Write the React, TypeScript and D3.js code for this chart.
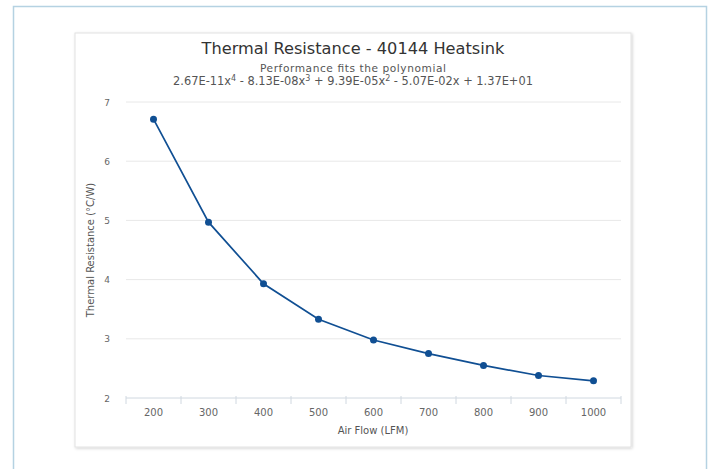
import * as d3 from "d3";

const airFlow = ["200", "300", "400", "500", "600", "700", "800", "900", "1000"];
const resistance = [6.71, 4.97, 3.93, 3.33, 2.98, 2.75, 2.55, 2.38, 2.29];
const yTicks = [2, 3, 4, 5, 6, 7];

const W = 711;
const H = 469;
const FONT = '"Lucida Grande", "DejaVu Sans", sans-serif';

export default function App() {
  const x = d3.scaleBand<string>().domain(airFlow).range([126, 621]);
  const y = d3.scaleLinear().domain([2, 7]).range([398, 102]);
  const cx = (d: string) => x(d)! + x.bandwidth() / 2;

  const line = d3
    .line<number>()
    .x((_, i) => cx(airFlow[i]))
    .y((d) => y(d));

  const ticksX = [...airFlow.map((d) => x(d)!), 621];

  return (
    <div style={{ position: "absolute", left: 0, top: 0 }}>
      <svg width={W} height={H} style={{ display: "block", fontFamily: FONT }}>
        <defs>
          <filter id="shadow" x="-5%" y="-5%" width="110%" height="110%">
            <feDropShadow dx="1" dy="1" stdDeviation="1.5" floodColor="#000" floodOpacity="0.18" />
          </filter>
        </defs>
        <rect x={0} y={0} width={W} height={H} fill="#fff" />
        {/* outer frame */}
        <rect x={13.5} y={6.5} width={693} height={480} fill="#fff" stroke="#b5d2e2" strokeWidth={1.5} />
        {/* chart card */}
        <rect x={75} y={33} width={556} height={414} fill="#fff" stroke="#e2e2e2" filter="url(#shadow)" />

        <text x={353} y={54} textAnchor="middle" fontSize={16.2} fill="#333">
          Thermal Resistance - 40144 Heatsink
        </text>
        <text x={353} y={72} textAnchor="middle" fontSize={10.6} fill="#555" textLength={186}>
          Performance fits the polynomial
        </text>
        <text x={353} y={85} textAnchor="middle" fontSize={11.4} fill="#555">
          2.67E-11x<tspan fontSize={8} dy={-4}>4</tspan>
          <tspan dy={4}> - 8.13E-08x</tspan>
          <tspan fontSize={8} dy={-4}>3</tspan>
          <tspan dy={4}> + 9.39E-05x</tspan>
          <tspan fontSize={8} dy={-4}>2</tspan>
          <tspan dy={4}> - 5.07E-02x + 1.37E+01</tspan>
        </text>

        {/* grid + y labels */}
        {yTicks.map((t) => (
          <g key={t}>
            {t > 2 && <line x1={126} x2={621} y1={y(t)} y2={y(t)} stroke="#e8e8e8" />}
            <text x={110} y={y(t) + 3.5} textAnchor="end" fontSize={9} fill="#666">
              {t}
            </text>
          </g>
        ))}

        {/* x axis */}
        <line x1={126} x2={621} y1={y(2)} y2={y(2)} stroke="#d0d8e0" />
        {ticksX.map((t, i) => (
          <line key={i} x1={t} x2={t} y1={y(2) - 2} y2={y(2) + 6} stroke="#d0d8e0" />
        ))}
        {airFlow.map((d) => (
          <text key={d} x={cx(d)} y={y(2) + 18} textAnchor="middle" fontSize={10} fill="#666">
            {d}
          </text>
        ))}
        <text x={373} y={434} textAnchor="middle" fontSize={10} fill="#555">
          Air Flow (LFM)
        </text>
        <text
          transform={`translate(94,${(y(2) + y(7)) / 2}) rotate(-90)`}
          textAnchor="middle"
          fontSize={10}
          fill="#555"
        >
          Thermal Resistance (°C/W)
        </text>

        <path d={line(resistance)!} fill="none" stroke="#104f93" strokeWidth={1.7} />
        {resistance.map((v, i) => (
          <circle key={i} cx={cx(airFlow[i])} cy={y(v)} r={3.5} fill="#104f93" />
        ))}
      </svg>
    </div>
  );
}
